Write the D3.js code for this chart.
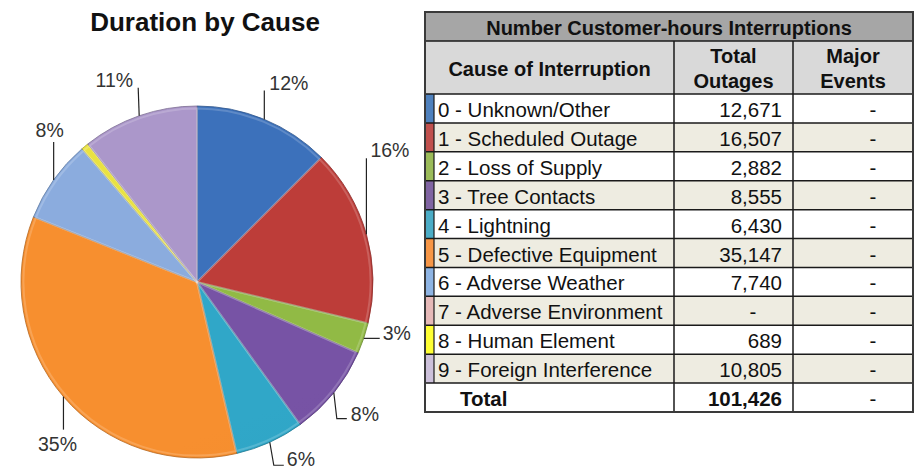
<!DOCTYPE html>
<html>
<head>
<meta charset="utf-8">
<script src="https://cdn.jsdelivr.net/npm/d3@7/dist/d3.min.js"></script>
<style>
  html, body { margin: 0; padding: 0; background: #fff; }
  svg { display: block; font-family: "Liberation Sans", Arial, sans-serif; }
</style>
</head>
<body>
<svg id="chart" width="916" height="469"></svg>
<script>
// ---------- DATA ----------
const causes = [
  "0 - Unknown/Other", "1 - Scheduled Outage", "2 - Loss of Supply", "3 - Tree Contacts",
  "4 - Lightning", "5 - Defective Equipment", "6 - Adverse Weather", "7 - Adverse Environment",
  "8 - Human Element", "9 - Foreign Interference"
];
const totalOutages = [12671, 16507, 2882, 8555, 6430, 35147, 7740, null, 689, 10805];
const majorEvents = [null, null, null, null, null, null, null, null, null, null];
const totalLabel = "Total";
const totalValue = 101426;
const totalMajor = null;
const chartTitle = "Duration by Cause";
const tableTitle = "Number Customer-hours Interruptions";
const colHeaders = [["Cause of Interruption"], ["Total", "Outages"], ["Major", "Events"]];

// ---------- STYLE ----------
const pieColors = ["#3a6eb6", "#b83b37", "#8db543", "#7451a0", "#2fa2c2", "#f08b2e",
                   "#87a7d8", "#e6b9b8", "#e2dc40", "#a693c4"];
const stripeColors = ["#4f81bd", "#c0504d", "#9bbb59", "#8064a2", "#4bacc6", "#f79646",
                      "#8eb4e3", "#e6b9b8", "#ffff33", "#ccc0da"];
// label layout (leader polyline offsets from slice edge point, text offset, anchor)
const labelLayout = {
  0: { pts: [[0,0],[0,-29]], t: [5,-36], a: "start" },
  1: { pts: [[0,0],[0,-76]], t: [4,-84], a: "start" },
  2: { pts: [[0,0],[16,0]], t: [19,-5], a: "start" },
  3: { pts: [[0,0],[3,26],[13,26]], t: [17,21], a: "start" },
  4: { pts: [[0,0],[4,23],[14,23]], t: [17,17], a: "start" },
  5: { pts: [[0,0],[0,33]], t: [-6,47], a: "middle" },
  6: { pts: [[0,0],[0,-38]], t: [-4,-50], a: "middle" },
  9: { pts: [[0,0],[-1,-28]], t: [-6,-36], a: "end" }
};

const svg = d3.select("#chart");
const defs = svg.append("defs");
const fmt = d3.format(",");

// ---------- PIE ----------
const cx = 197, cy = 282, R = 176;
const pieVals = totalOutages.map(v => v == null ? 0 : v);
const sum = d3.sum(pieVals);
const pie = d3.pie().sort(null).value(d => d)(pieVals);
const arc = d3.arc().innerRadius(0).outerRadius(R);
const arcInner = d3.arc().innerRadius(0).outerRadius(R - 2.5);

svg.append("text")
  .attr("x", 205).attr("y", 22)
  .attr("text-anchor", "middle").attr("dominant-baseline", "central")
  .attr("font-weight", "bold").attr("font-size", 26).attr("fill", "#111")
  .text(chartTitle);

pieColors.forEach((c, i) => {
  const g = defs.append("linearGradient").attr("id", "pg" + i)
    .attr("gradientUnits", "userSpaceOnUse")
    .attr("x1", cx - R * 0.4).attr("y1", cy - R).attr("x2", cx + R * 0.4).attr("y2", cy + R);
  g.append("stop").attr("offset", "0%").attr("stop-color", d3.color(c).brighter(0.08));
  g.append("stop").attr("offset", "50%").attr("stop-color", c);
  g.append("stop").attr("offset", "100%").attr("stop-color", d3.color(c).darker(0.4));
});

const pg = svg.append("g").attr("transform", `translate(${cx},${cy})`);
pg.selectAll("path.slice").data(pie.filter(d => d.value > 0)).join("path")
  .attr("class", "slice")
  .attr("d", arc)
  .attr("fill", d => `url(#pg${d.index})`)
  .attr("stroke", d => d3.color(pieColors[d.index]).darker(0.8))
  .attr("stroke-width", 0.8);
// bevel highlight
pg.selectAll("path.bevel").data(pie.filter(d => d.value > 0)).join("path")
  .attr("class", "bevel")
  .attr("d", arcInner)
  .attr("fill", "none")
  .attr("stroke", "#fff").attr("stroke-opacity", 0.18).attr("stroke-width", 2);

// labels + leader lines
const lg = svg.append("g");
pie.forEach(d => {
  const L = labelLayout[d.index];
  if (!L || d.value <= 0) return;
  const mid = (d.startAngle + d.endAngle) / 2;
  const px = cx + R * Math.sin(mid), py = cy - R * Math.cos(mid);
  lg.append("path")
    .attr("d", d3.line()(L.pts.map(p => [px + p[0], py + p[1]])))
    .attr("fill", "none").attr("stroke", "#222").attr("stroke-width", 1.2);
  lg.append("text")
    .attr("x", px + L.t[0]).attr("y", py + L.t[1])
    .attr("text-anchor", L.a).attr("dominant-baseline", "central")
    .attr("font-size", 19.5).attr("fill", "#333")
    .text(d3.format(".0%")(d.value / sum));
});

// ---------- TABLE ----------
const colX = [425, 674, 793, 913];
const h1Top = 12, h1Bot = 41, h2Bot = 94, tBot = 412;
const rowIdx = d3.range(causes.length + 1);
const y = d3.scaleBand().domain(rowIdx).range([h2Bot, tBot]);
const tg = svg.append("g").attr("font-size", 20.5);

tg.append("rect").attr("x", colX[0]).attr("y", h1Top).attr("width", colX[3] - colX[0]).attr("height", h1Bot - h1Top).attr("fill", "#a6a6a6");
tg.append("rect").attr("x", colX[0]).attr("y", h1Bot).attr("width", colX[3] - colX[0]).attr("height", h2Bot - h1Bot).attr("fill", "#d9d9d9");

tg.selectAll("rect.row").data(rowIdx).join("rect")
  .attr("class", "row")
  .attr("x", colX[0]).attr("y", d => y(d)).attr("width", colX[3] - colX[0]).attr("height", y.bandwidth())
  .attr("fill", d => (d < causes.length && d % 2 === 1) ? "#eeece1" : "#ffffff");

tg.selectAll("rect.stripe").data(d3.range(causes.length)).join("rect")
  .attr("class", "stripe")
  .attr("x", colX[0] + 1).attr("y", d => y(d)).attr("width", 8).attr("height", y.bandwidth())
  .attr("fill", d => stripeColors[d]);

const lineC = "#1a1a1a";
const hl = [h1Bot, h2Bot].concat(rowIdx.slice(1).map(d => y(d)));
tg.selectAll("line.h").data(hl).join("line").attr("class", "h")
  .attr("x1", colX[0]).attr("x2", colX[3]).attr("y1", d => d).attr("y2", d => d)
  .attr("stroke", lineC).attr("stroke-width", 1.5);
[colX[1], colX[2]].forEach(x => {
  tg.append("line").attr("x1", x).attr("x2", x).attr("y1", h1Bot).attr("y2", tBot)
    .attr("stroke", lineC).attr("stroke-width", 1.5);
});
tg.append("line").attr("x1", colX[0] + 9).attr("x2", colX[0] + 9)
  .attr("y1", h2Bot).attr("y2", y(causes.length))
  .attr("stroke", lineC).attr("stroke-width", 1.2);
tg.append("rect").attr("x", colX[0]).attr("y", h1Top).attr("width", colX[3] - colX[0]).attr("height", tBot - h1Top)
  .attr("fill", "none").attr("stroke", "#3a3a3a").attr("stroke-width", 2);

tg.append("text").attr("x", (colX[0] + colX[3]) / 2).attr("y", (h1Top + h1Bot) / 2 + 1)
  .attr("text-anchor", "middle").attr("dominant-baseline", "central")
  .attr("font-weight", "bold").attr("font-size", 20).attr("fill", "#111").text(tableTitle);
colHeaders.forEach((lines, i) => {
  const xm = (colX[i] + colX[i + 1]) / 2;
  const ym = (h1Bot + h2Bot) / 2 + 1;
  lines.forEach((t, j) => {
    tg.append("text").attr("x", xm).attr("y", ym + (j - (lines.length - 1) / 2) * 25)
      .attr("text-anchor", "middle").attr("dominant-baseline", "central")
      .attr("font-weight", "bold").attr("font-size", 20).attr("fill", "#111").text(t);
  });
});

const rowsData = causes.map((c, i) => ({ i, c, v: totalOutages[i], m: majorEvents[i] }));
const rg = tg.selectAll("g.r").data(rowsData).join("g").attr("class", "r")
  .attr("transform", d => `translate(0,${y(d.i) + y.bandwidth() / 2 + 1})`);
rg.append("text").attr("x", colX[0] + 13).attr("dominant-baseline", "central").attr("fill", "#111").text(d => d.c);
rg.append("text").attr("x", d => d.v == null ? 753 : colX[2] - 11)
  .attr("text-anchor", d => d.v == null ? "middle" : "end")
  .attr("dominant-baseline", "central").attr("fill", "#111")
  .text(d => d.v == null ? "-" : fmt(d.v));
rg.append("text").attr("x", 873).attr("text-anchor", "middle")
  .attr("dominant-baseline", "central").attr("fill", "#111").text(d => d.m == null ? "-" : fmt(d.m));

const ty = y(causes.length) + y.bandwidth() / 2 + 1;
tg.append("text").attr("x", 460).attr("y", ty).attr("dominant-baseline", "central")
  .attr("font-weight", "bold").attr("fill", "#111").text(totalLabel);
tg.append("text").attr("x", colX[2] - 11).attr("y", ty).attr("text-anchor", "end").attr("dominant-baseline", "central")
  .attr("font-weight", "bold").attr("fill", "#111").text(fmt(totalValue));
tg.append("text").attr("x", 873).attr("y", ty).attr("text-anchor", "middle").attr("dominant-baseline", "central")
  .attr("fill", "#111").text(totalMajor == null ? "-" : fmt(totalMajor));
</script>
</body>
</html>
